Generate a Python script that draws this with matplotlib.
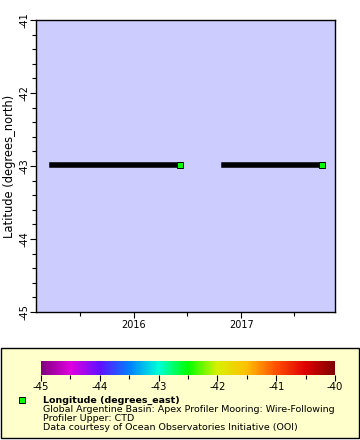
# ERDDAP-style latitude vs time plot, marker colour = longitude
import matplotlib
matplotlib.use("Agg")
import matplotlib.pyplot as plt
import matplotlib.dates as mdates
from matplotlib.colors import LinearSegmentedColormap, Normalize
from matplotlib.patches import Rectangle
import pandas as pd

# data: deployment segments (start, end), latitude and longitude
seg_start = ["2015-03-26", "2016-11-03"]
seg_end = ["2016-06-06", "2017-10-04"]
seg_lat = [-42.98, -42.98]
seg_lon = [-42.49, -42.49]

xlim = ["2015-02-01", "2017-11-17"]
ylim = [-45, -41]
lon_range = [-45, -40]

legend_title = "Longitude (degrees_east)"
legend_lines = ["Global Argentine Basin: Apex Profiler Mooring: Wire-Following",
                "Profiler Upper: CTD",
                "Data courtesy of Ocean Observatories Initiative (OOI)"]

# rainbow palette like erddap
pal = ["#800080", "#e000e0", "#6010ff", "#0080ff", "#00ffd8",
       "#00ff00", "#d8f000", "#ffc000", "#ff5000", "#e00000", "#800000"]
pos = [0, 0.1, 0.2, 0.3, 0.4, 0.5, 0.6, 0.7, 0.8, 0.9, 1.0]
cmap = LinearSegmentedColormap.from_list("rainbow2", list(zip(pos, pal)))
norm = Normalize(*lon_range)

plt.rcParams['font.family'] = ['DejaVu Sans']
plt.rcParams['axes.unicode_minus'] = False
fig = plt.figure(figsize=(3.6, 4.4), dpi=100)

# legend box (behind everything)
fig.patches.append(Rectangle((0.003, 0.0045), 0.994, 0.2045, transform=fig.transFigure,
                             facecolor="#ffffcc", edgecolor="black", lw=1.0, zorder=-5))

ax = fig.add_axes([0.1, 0.2909, 0.8306, 0.6636])
ax.set_facecolor("#ccccff")

for s, e, lat, lon in zip(seg_start, seg_end, seg_lat, seg_lon):
    t = [pd.Timestamp(s), pd.Timestamp(e)]
    ax.plot(t, [lat, lat], color="black", lw=4.0, solid_capstyle="projecting", zorder=3)
    ax.plot(t[1], lat, "s", ms=4.3, mfc=cmap(norm(lon)), mec="black", mew=0.7, zorder=4)

ax.set_xlim(pd.Timestamp(xlim[0]), pd.Timestamp(xlim[1]))
ax.set_ylim(*ylim)
ax.xaxis.set_major_locator(mdates.YearLocator())
ax.xaxis.set_minor_locator(mdates.MonthLocator(bymonth=7))
ax.xaxis.set_major_formatter(mdates.DateFormatter("%Y"))
ax.set_yticks([-45, -44, -43, -42, -41])
ax.set_yticks([-45 + 0.2 * i for i in range(21)], minor=True)
ax.tick_params(which="major", length=4.5, width=0.8, labelsize=7, pad=1)
ax.tick_params(axis="y", which="major", pad=0)
ax.tick_params(which="minor", length=3, width=0.8)
for lab in ax.get_yticklabels():
    lab.set_rotation(90)
    lab.set_va("center")
ax.set_ylabel("Latitude (degrees_north)", fontsize=8.3, labelpad=3)
for sp in ax.spines.values():
    sp.set_linewidth(1.0)

cax = fig.add_axes([0.1139, 0.1477, 0.8167, 0.0318])
sm = plt.cm.ScalarMappable(norm=norm, cmap=cmap)
cb = fig.colorbar(sm, cax=cax, orientation="horizontal")
cb.outline.set_visible(False)
cb.set_ticks([-45, -44, -43, -42, -41, -40])
cb.set_ticklabels(["-45", "-44", "-43", "-42", "-41", "-40"])
cax.xaxis.set_ticks([-44.5, -43.5, -42.5, -41.5, -40.5], minor=True)
cax.tick_params(which="major", length=4, width=0.8, labelsize=7.3, pad=1)
cax.tick_params(which="minor", length=3, width=0.8)

fig.add_artist(plt.Line2D([22 / 360], [1 - 400 / 440], marker="s", ms=4.3,
                          mfc=cmap(norm(seg_lon[0])), mec="black", mew=0.7,
                          transform=fig.transFigure))
fig.text(43 / 360, 1 - 400 / 440, legend_title, fontsize=6.8, fontweight="bold", va="center")
for i, line in enumerate(legend_lines):
    fig.text(43 / 360, 1 - (409 + 9 * i) / 440, line, fontsize=6.8, va="center")

plt.savefig("out.png", dpi=100, facecolor="white")
